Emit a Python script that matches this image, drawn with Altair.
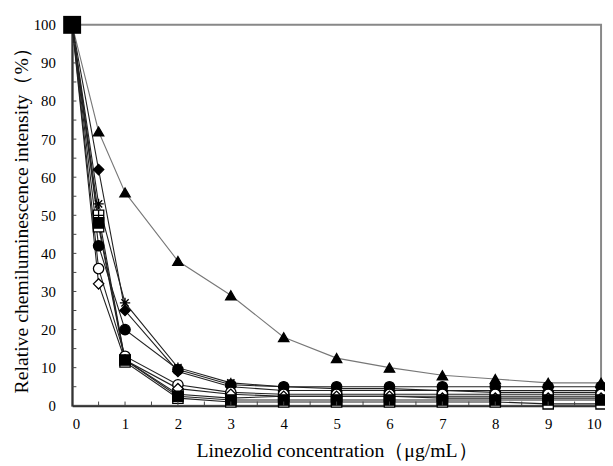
import altair as alt
import pandas as pd

x_vals = [0, 0.5, 1, 2, 3, 4, 5, 6, 7, 8, 9, 10]

tri_filled = [100, 72, 56, 38, 29, 18, 12.5, 10, 8, 7, 6, 6]
diamond_filled = [100, 62, 25, 9, 5, 4, 4, 4, 4, 3.5, 3.5, 3.5]
asterisk = [100, 53, 27, 10, 6, 5, 4.5, 4.5, 4, 4, 4, 4]
circle_filled = [100, 42, 20, 9.5, 5.5, 5, 5, 5, 5, 5, 5, 5]
square_cross = [100, 50, 12, 3, 2, 2.5, 2.5, 2.5, 2.5, 2.5, 2.5, 2.5]
circle_open = [100, 36, 13, 5.5, 3.5, 3, 3, 3, 3, 3, 3, 3]
diamond_open = [100, 32, 12, 4.5, 3, 2.5, 2.5, 2.5, 2, 2, 2, 2]
square_open = [100, 47, 11.5, 2, 1, 1, 1, 1, 1, 1, 0.5, 0.5]
square_filled = [100, 48, 12, 2.5, 1.5, 1.5, 1.5, 1.5, 1.5, 1.5, 1.5, 1.5]

series_names = ["tri_filled", "diamond_filled", "asterisk", "circle_filled",
                "square_cross", "circle_open", "diamond_open", "square_open",
                "square_filled"]
series_values = [tri_filled, diamond_filled, asterisk, circle_filled,
                 square_cross, circle_open, diamond_open, square_open,
                 square_filled]

shape_range = [
    "triangle-up",
    "diamond",
    "M-1,0L1,0M0,-1L0,1M-0.7,-0.7L0.7,0.7M-0.7,0.7L0.7,-0.7",
    "circle",
    "M-1,-1L1,-1L1,1L-1,1ZM0,-1L0,1M-1,0L1,0",
    "circle",
    "diamond",
    "square",
    "square",
]
fill_range = ["black", "black", "white", "black", "white", "white", "white", "white", "black"]
line_range = ["#777777", "#222222", "#222222", "#222222", "#222222", "#222222",
              "#222222", "#222222", "#222222"]

x_ticks = [0, 1, 2, 3, 4, 5, 6, 7, 8, 9, 10]
y_ticks = [0, 10, 20, 30, 40, 50, 60, 70, 80, 90, 100]
x_minor = [0.5, 1, 1.5, 2, 2.5, 3, 3.5, 4, 4.5, 5, 5.5, 6, 6.5, 7, 7.5, 8, 8.5, 9, 9.5]
y_minor = [5, 10, 15, 20, 25, 30, 35, 40, 45, 50, 55, 60, 65, 70, 75, 80, 85, 90, 95]

rows = []
for name, vals in zip(series_names, series_values):
    for xv, yv in zip(x_vals, vals):
        rows.append({"series": name, "x": xv, "y": yv})
df = pd.DataFrame(rows)

# inward minor tick marks (length in data units)
xt_df = pd.DataFrame({"x": x_minor, "y": [0] * len(x_minor), "y2": [1.1] * len(x_minor)})
yt_df = pd.DataFrame({"y": y_minor, "x": [0] * len(y_minor), "x2": [0.08] * len(y_minor)})

serif = "Liberation Serif"
x_title = "Linezolid concentration（μg/mL）"
y_title = "Relative chemiluminescence intensity（%）"

xscale = alt.Scale(domain=[0, 10], nice=False, zero=False)
yscale = alt.Scale(domain=[0, 100], nice=False)

xaxis = alt.Axis(values=x_ticks, tickSize=0, labelPadding=11, grid=False, labelOverlap=False,
                 labelFont=serif, labelFontSize=15, labelColor="black", titlePadding=9)
yaxis = alt.Axis(values=y_ticks, tickSize=0, labelPadding=17, grid=False, labelOverlap=False,
                 labelFont=serif, labelFontSize=15, labelColor="black", titlePadding=2)


def X(field):
    return alt.X(field, scale=xscale, axis=xaxis, title=x_title)


def Y(field):
    return alt.Y(field, scale=yscale, axis=yaxis, title=y_title)


lines = alt.Chart(df).mark_line(strokeWidth=1.1).encode(
    x=X("x:Q"),
    y=Y("y:Q"),
    detail="series:N",
    color=alt.Color("series:N", scale=alt.Scale(domain=series_names, range=line_range), legend=None),
)

points = alt.Chart(df).mark_point(filled=True, stroke="black", strokeWidth=1.3, opacity=1, size=110).encode(
    x=X("x:Q"),
    y=Y("y:Q"),
    shape=alt.Shape("series:N", scale=alt.Scale(domain=series_names, range=shape_range), legend=None),
    fill=alt.Fill("series:N", scale=alt.Scale(domain=series_names, range=fill_range), legend=None),
)

big_square = alt.Chart(pd.DataFrame({"x": [x_vals[0]], "y": [square_filled[0]]})).mark_point(
    shape="square", filled=True, color="black", size=330, opacity=1).encode(
    x=X("x:Q"), y=Y("y:Q"))

xt = alt.Chart(xt_df).mark_rule(color="#444", strokeWidth=1).encode(
    x=X("x:Q"), y=Y("y:Q"), y2="y2:Q")
yt = alt.Chart(yt_df).mark_rule(color="#444", strokeWidth=1).encode(
    y=Y("y:Q"), x=X("x:Q"), x2="x2:Q")

chart = alt.layer(lines, points, big_square, xt, yt).properties(
    width=536, height=386,
    autosize=alt.AutoSizeParams(type="none"),
    padding={"left": 65, "top": 14, "right": 4, "bottom": 58},
).configure_view(
    stroke="#888888", strokeWidth=2
).configure_axis(
    labelFont=serif, labelFontSize=15, labelColor="black",
    titleFont=serif, titleFontSize=20, titleFontWeight="normal", titleColor="black",
    domainColor="#333333", domainWidth=2,
)

chart.save("out.html", embed_options={"renderer": "svg", "actions": False})
